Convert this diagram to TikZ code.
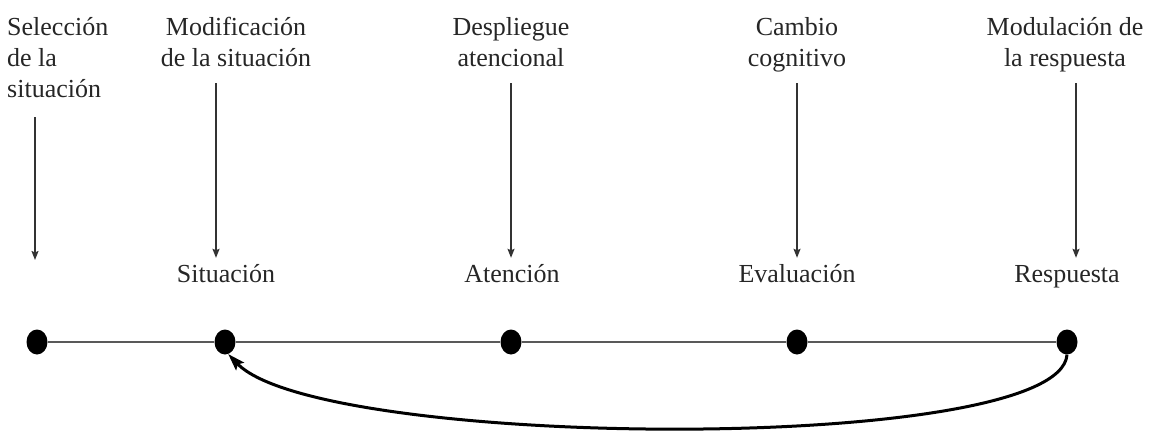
\documentclass[tikz,border=0pt]{standalone}
\usepackage{fontspec}
\setmainfont{Liberation Serif}
\usetikzlibrary{shapes.geometric,arrows.meta}
\begin{document}
\begin{tikzpicture}[x=1pt,y=-1pt,
  lbl/.style={inner sep=0pt,font=\fontsize{26}{31}\selectfont,text=black!85},
  toplbl/.style={lbl,anchor=north,align=center},
  stagelbl/.style={lbl,anchor=base,text height=18pt,text depth=6pt},
  dot/.style={ellipse,fill=black,inner sep=0pt,minimum width=21pt,minimum height=25pt},
  varrow/.style={draw=black!80,line width=1.5pt,-{Stealth[length=9pt,width=7pt,inset=1.5pt]}},
  hline/.style={draw=black!65,line width=2.5pt},
  loopback/.style={draw=black,line width=3pt,-{Stealth[length=17pt,width=11pt,inset=3pt]}}]
  \useasboundingbox (0,0) rectangle (1149,440);

  % strategy labels along the top
  \node[toplbl,anchor=north west,align=left] (sel) at (7,13.3) {\strut Selección\\de la\\situación\strut};
  \node[toplbl] (mod)  at (236,13.3)  {\strut Modificación\\de la situación\strut};
  \node[toplbl] (desp) at (511,13.3)  {\strut Despliegue\\atencional\strut};
  \node[toplbl] (camb) at (797,13.3)  {\strut Cambio\\cognitivo\strut};
  \node[toplbl] (modr) at (1065,13.3) {\strut Modulación de\\la respuesta\strut};

  % stage labels
  \node[stagelbl] (sit) at (226,282)  {Situación};
  \node[stagelbl] (ate) at (512,282)  {Atención};
  \node[stagelbl] (eva) at (797,282)  {Evaluación};
  \node[stagelbl] (res) at (1067,282) {Respuesta};

  % arrow start points under the strategy labels
  \coordinate (s1) at (35,117);
  \coordinate (e1) at (35,260);
  \coordinate (s2) at (216,83);
  \coordinate (s3) at (511,83);
  \coordinate (s4) at (797,83);
  \coordinate (s5) at (1076,83);

  \draw[varrow] (s1) -- (e1);
  \draw[varrow,shorten >=6pt] (s2) -- (sit.north -| s2);
  \draw[varrow,shorten >=6pt] (s3) -- (ate.north -| s3);
  \draw[varrow,shorten >=6pt] (s4) -- (eva.north -| s4);
  \draw[varrow,shorten >=6pt] (s5) -- (res.north -| s5);

  % timeline
  \node[dot] (d1) at (37,342) {};
  \node[dot] (d2) at (225,342) {};
  \node[dot] (d3) at (511,342) {};
  \node[dot] (d4) at (797,342) {};
  \node[dot] (d5) at (1067,342) {};
  \draw[hline] (d1) -- (d2);
  \draw[hline] (d2) -- (d3);
  \draw[hline] (d3) -- (d4);
  \draw[hline] (d4) -- (d5);

  % feedback from the response back to the situation
  \draw[loopback] (d5.south) .. controls (1060,455) and (320,450) .. (d2.-75);
\end{tikzpicture}
\end{document}
